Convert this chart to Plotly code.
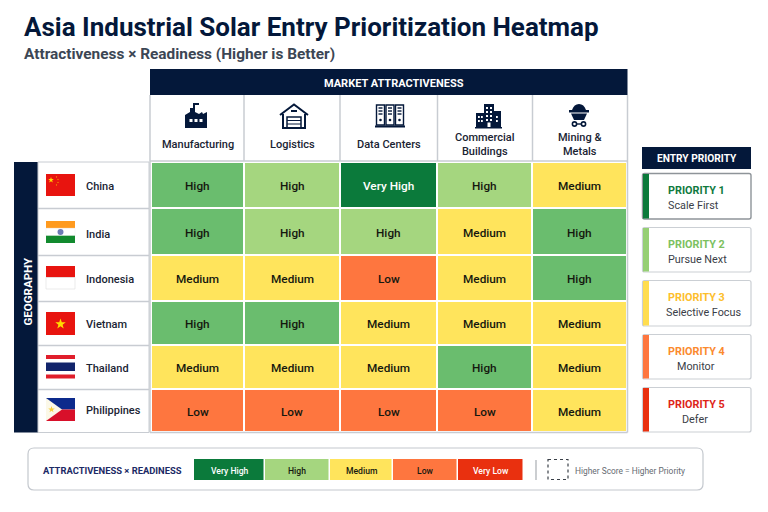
import math
import plotly.graph_objects as go

# Row and column labels
sectors = ["Manufacturing", "Logistics", "Data Centers", "Commercial<br>Buildings", "Mining &<br>Metals"]
countries = ["China", "India", "Indonesia", "Vietnam", "Thailand", "Philippines"]

# Score per cell: 5 very high, 4 strong high, 3 high, 2 medium, 1 low, 0 very low
scores = [
    [4, 3, 5, 3, 2],
    [4, 3, 3, 2, 4],
    [2, 2, 1, 2, 4],
    [4, 4, 2, 2, 2],
    [2, 2, 2, 4, 2],
    [1, 1, 1, 1, 2],
]
ratings = [
    ["High", "High", "Very High", "High", "Medium"],
    ["High", "High", "High", "Medium", "High"],
    ["Medium", "Medium", "Low", "Medium", "High"],
    ["High", "High", "Medium", "Medium", "Medium"],
    ["Medium", "Medium", "Medium", "High", "Medium"],
    ["Low", "Low", "Low", "Low", "Medium"],
]

legend_names = ["Very High", "High", "Medium", "Low", "Very Low"]
legend_scores = [5, 3, 2, 1, 0]

priority_titles = ["PRIORITY 1", "PRIORITY 2", "PRIORITY 3", "PRIORITY 4", "PRIORITY 5"]
priority_actions = ["Scale First", "Pursue Next", "Selective Focus", "Monitor", "Defer"]
priority_text_colors = ["#0F7A3E", "#7CC15F", "#FDBE2C", "#FB8A2E", "#DE2418"]
priority_bar_colors = ["#0B7A3B", "#96CF74", "#FFDD4F", "#FE763F", "#E9300F"]

# Discrete bands, one per score
level_colors = ["#E9300F", "#FE763F", "#FFE45C", "#A5D67F", "#6ABD6E", "#0B7A3B"]
colorscale = []
for i, c in enumerate(level_colors):
    colorscale += [[i / 6, c], [(i + 1) / 6, c]]

col_edges = [151, 244, 340, 437, 532, 627]
row_edges = [162, 208, 255, 301, 345, 389, 432]
legend_edges = [194, 265, 329.5, 393, 458, 524]

NAVY = "#04183A"
GRID = "#C8CCD2"
FONT = "Roboto"

fig = go.Figure()
fig.add_trace(go.Heatmap(x=col_edges, y=row_edges, z=scores, colorscale=colorscale, zmin=-0.5, zmax=5.5,
                         showscale=False, xgap=2, ygap=2, hoverinfo="skip"))
fig.add_trace(go.Heatmap(x=legend_edges, y=[459, 480], z=[legend_scores], colorscale=colorscale, zmin=-0.5, zmax=5.5,
                         showscale=False, xgap=1.5, hoverinfo="skip"))

fig.update_layout(width=768, height=512, margin=dict(l=0, r=0, t=0, b=0), paper_bgcolor="white", plot_bgcolor="white",
                  showlegend=False,
                  xaxis=dict(range=[0, 768], visible=False, fixedrange=True),
                  yaxis=dict(range=[512, 0], visible=False, fixedrange=True))


def text(x, y, s, size=13, color="#111", weight=500, anchor="center", angle=0):
    fig.add_annotation(x=x, y=y, text=s, showarrow=False, xanchor=anchor, yanchor="middle", textangle=angle,
                       font=dict(family=FONT, size=size, color=color, weight=weight), borderpad=0, borderwidth=0)


def rect(x0, y0, x1, y1, fill=None, line=None, width=1, dash=None):
    fig.add_shape(type="rect", x0=x0, y0=y0, x1=x1, y1=y1, fillcolor=fill or "rgba(0,0,0,0)", layer="above",
                  line=dict(color=line or "rgba(0,0,0,0)", width=width if line else 0, dash=dash))


def seg(x0, y0, x1, y1, color=GRID, width=1.5):
    fig.add_shape(type="line", x0=x0, y0=y0, x1=x1, y1=y1, layer="above", line=dict(color=color, width=width))


def path(d, fill=None, line=None, width=1):
    fig.add_shape(type="path", path=d, fillcolor=fill or "rgba(0,0,0,0)", layer="above",
                  line=dict(color=line or "rgba(0,0,0,0)", width=width if line else 0))


def disc(cx, cy, r, fill=None, line=None, width=1):
    fig.add_shape(type="circle", x0=cx - r, y0=cy - r, x1=cx + r, y1=cy + r, fillcolor=fill or "rgba(0,0,0,0)",
                  layer="above", line=dict(color=line or "rgba(0,0,0,0)", width=width if line else 0))


def star(cx, cy, r, fill):
    pts = []
    for k in range(10):
        rad = r if k % 2 == 0 else r * 0.4
        a = -math.pi / 2 + k * math.pi / 5
        pts.append((cx + rad * math.cos(a), cy + rad * math.sin(a)))
    path("M" + " L".join(f"{x:.2f},{y:.2f}" for x, y in pts) + " Z", fill=fill)


def round_box(x0, y0, x1, y1, r, line, width=1.2, fill="white"):
    d = (f"M{x0 + r},{y0} L{x1 - r},{y0} Q{x1},{y0} {x1},{y0 + r} L{x1},{y1 - r} Q{x1},{y1} {x1 - r},{y1} "
         f"L{x0 + r},{y1} Q{x0},{y1} {x0},{y1 - r} L{x0},{y0 + r} Q{x0},{y0} {x0 + r},{y0} Z")
    path(d, fill=fill, line=line, width=width)


# Title block
text(24, 27, "Asia Industrial Solar Entry Prioritization Heatmap", 26, NAVY, 700, anchor="left")
text(24, 54, "Attractiveness × Readiness (Higher is Better)", 15.4, "#3C4654", 700, anchor="left")

# Column header band and sector cells
rect(150, 69, 627.5, 95, fill=NAVY)
text(394, 83, "MARKET ATTRACTIVENESS", 11, "white", 700)
for x in [150, 244, 340, 437.5, 532.5, 627.5]:
    seg(x, 95, x, 161)

for j, name in enumerate(sectors):
    cx = (col_edges[j] + col_edges[j + 1]) / 2
    text(cx, 144.5, name, 11, "#1A2433")

# Factory icon
path("M185,128 L185,115 L190,112 L190,108 L193,108 L193,103 L199,103 L199,105 L195,105 L195,112 L199,114 L202,112 "
     "L203,114 L207,112 L207,128 Z", fill=NAVY)
for x in [189.5, 194.5, 199.5]:
    rect(x, 119, x + 3, 122, fill="white")

# Warehouse icon
path("M280,115 L294,104.5 L308,115", line=NAVY, width=2)
path("M283,114 L283,128 L305,128 L305,114", line=NAVY, width=2)
rect(287, 117, 301, 128, line=NAVY, width=1.5)
seg(287, 120.5, 301, 120.5, NAVY, 1)
seg(287, 124, 301, 124, NAVY, 1)
rect(291, 110, 297, 112, fill=NAVY)

# Server racks icon
for x in [376.5, 386, 395.5]:
    rect(x, 105, x + 8, 125, line=NAVY, width=1.4)
    for y in [108, 111, 114]:
        seg(x + 2, y, x + 6, y, NAVY, 1.4)
    disc(x + 4, 120, 1.3, fill=NAVY)
rect(375, 125.5, 405, 127.5, fill=NAVY)

# Office towers icon
rect(476, 113, 484, 127, fill=NAVY)
rect(484, 104, 494, 127, fill=NAVY)
rect(494, 111, 501, 127, fill=NAVY)
rect(475, 127, 502, 128.5, fill=NAVY)
for x in [486, 490]:
    for y in [107, 111, 115, 119]:
        rect(x, y, x + 2, y + 2, fill="white")
for x in [478, 481, 496]:
    for y in [116, 120]:
        rect(x, y, x + 1.8, y + 2, fill="white")
rect(487.5, 122.5, 490.5, 127, fill="white")

# Mine cart icon
path("M572,110 Q574,104 579,104 Q584,104 586,110 Z", fill=NAVY)
rect(569, 110, 589, 112.5, fill=NAVY)
path("M571,113.5 L587,113.5 L584,120 L574,120 Z", fill=NAVY)
disc(574.5, 124, 2.1, line=NAVY, width=1.6)
disc(583.5, 124, 2.1, line=NAVY, width=1.6)
seg(577, 124, 581, 124, NAVY, 1.4)

# Geography sidebar and country rows
rect(14, 162, 38, 432.5, fill=NAVY)
text(27, 291.5, "GEOGRAPHY", 11.5, "white", 700, angle=-90)
rect(38, 162, 149, 432.5, line=GRID, width=1)
for y in [208.5, 255.5, 301.5, 345.5, 389.5]:
    seg(38, y, 149, y)
seg(150, 161, 627.5, 161)
seg(150, 432.5, 627.5, 432.5)
seg(627.5, 161, 627.5, 432.5)
seg(150, 161, 150, 432.5)

country_y = [186, 234, 279.5, 324.5, 368, 410.5]
for name, y in zip(countries, country_y):
    text(86, y, name, 11, "#1A2433", anchor="left")

# Flags
F0, F1 = 46, 75
rect(F0, 174, F1, 196, fill="#E8140F")
star(51, 180, 3, "#FFDE00")
for dx, dy in [(56.5, 177), (58, 179.5), (58, 182.5), (56.5, 185)]:
    star(dx, dy, 0.9, "#FFDE00")

rect(F0, 221, F1, 228.3, fill="#FF9A1E")
rect(F0, 228.3, F1, 235.7, fill="white", line="#EEEEEE", width=0.5)
rect(F0, 235.7, F1, 243, fill="#128A2E")
disc(60.5, 232, 3, fill="#6D7BB5")

rect(F0, 266, F1, 277.5, fill="#E8140F")
rect(F0, 277.5, F1, 289, fill="white", line="#E2E2E2", width=0.7)

rect(F0, 312, F1, 335, fill="#E8140F")
star(60.5, 324, 5.5, "#FFDD00")

rect(F0, 355, F1, 378.5, fill="white")
for y0, y1, c in [(355, 359, "#E01E2B"), (362.5, 371, "#12246B"), (374.5, 378.5, "#E01E2B")]:
    rect(F0, y0, F1, y1, fill=c)

rect(F0, 398, F1, 409.5, fill="#0C2A8C")
rect(F0, 409.5, F1, 421, fill="#D8102A")
path("M46,398 L62,409.5 L46,421 Z", fill="#FBF8E8")
star(51.5, 409.5, 3.4, "#F6CF3A")

# Cell ratings
for i, row in enumerate(ratings):
    cy = (row_edges[i] + row_edges[i + 1]) / 2 + 1
    for j, val in enumerate(row):
        cx = (col_edges[j] + col_edges[j + 1]) / 2
        text(cx, cy, val, 11.8, "white" if val == "Very High" else "#15180F")

# Entry priority panel
rect(642, 147, 751, 169, fill=NAVY)
text(696.5, 158.5, "ENTRY PRIORITY", 10.2, "white", 700)
card_tops = [173.5, 227.5, 280.5, 334.5, 387.5]
card_bottoms = [219, 272, 326, 379, 432]
action_x = [693, 697, 703, 696, 695]
for k in range(5):
    y0, y1 = card_tops[k], card_bottoms[k]
    round_box(642.5, y0, 751, y1, 2, "#8E9499" if k == 0 else "#CBCFD4", 1.4 if k == 0 else 1.2)
    rect(643, y0 + 0.5, 649, y1 - 0.5, fill=priority_bar_colors[k])
    text(696.5, y0 + 16.5, priority_titles[k], 10.8, priority_text_colors[k], 700)
    text(action_x[k], y0 + 32, priority_actions[k], 10.8, "#3A4048", 400)

# Bottom key: frame goes behind the swatches, so it is drawn as an outline only
round_box(28, 448, 703, 490, 6, "#C4C8CE", 1.2, fill="rgba(0,0,0,0)")
text(43, 470, "ATTRACTIVENESS × READINESS", 9.4, "#1C2A66", 700, anchor="left")
for k, name in enumerate(legend_names):
    cx = (legend_edges[k] + legend_edges[k + 1]) / 2
    text(cx, 470.5, name, 8.6, "white" if name in ("Very High", "Very Low") else "#15180F")
seg(536, 460, 536, 480, "#A9ADB2", 1.2)
rect(548, 459.5, 568, 479.5, line="#3A4048", width=1.2, dash="3px,3px")
text(575, 471, "Higher Score = Higher Priority", 8.4, "#666B72", 400, anchor="left")

fig.write_html("out.html")
